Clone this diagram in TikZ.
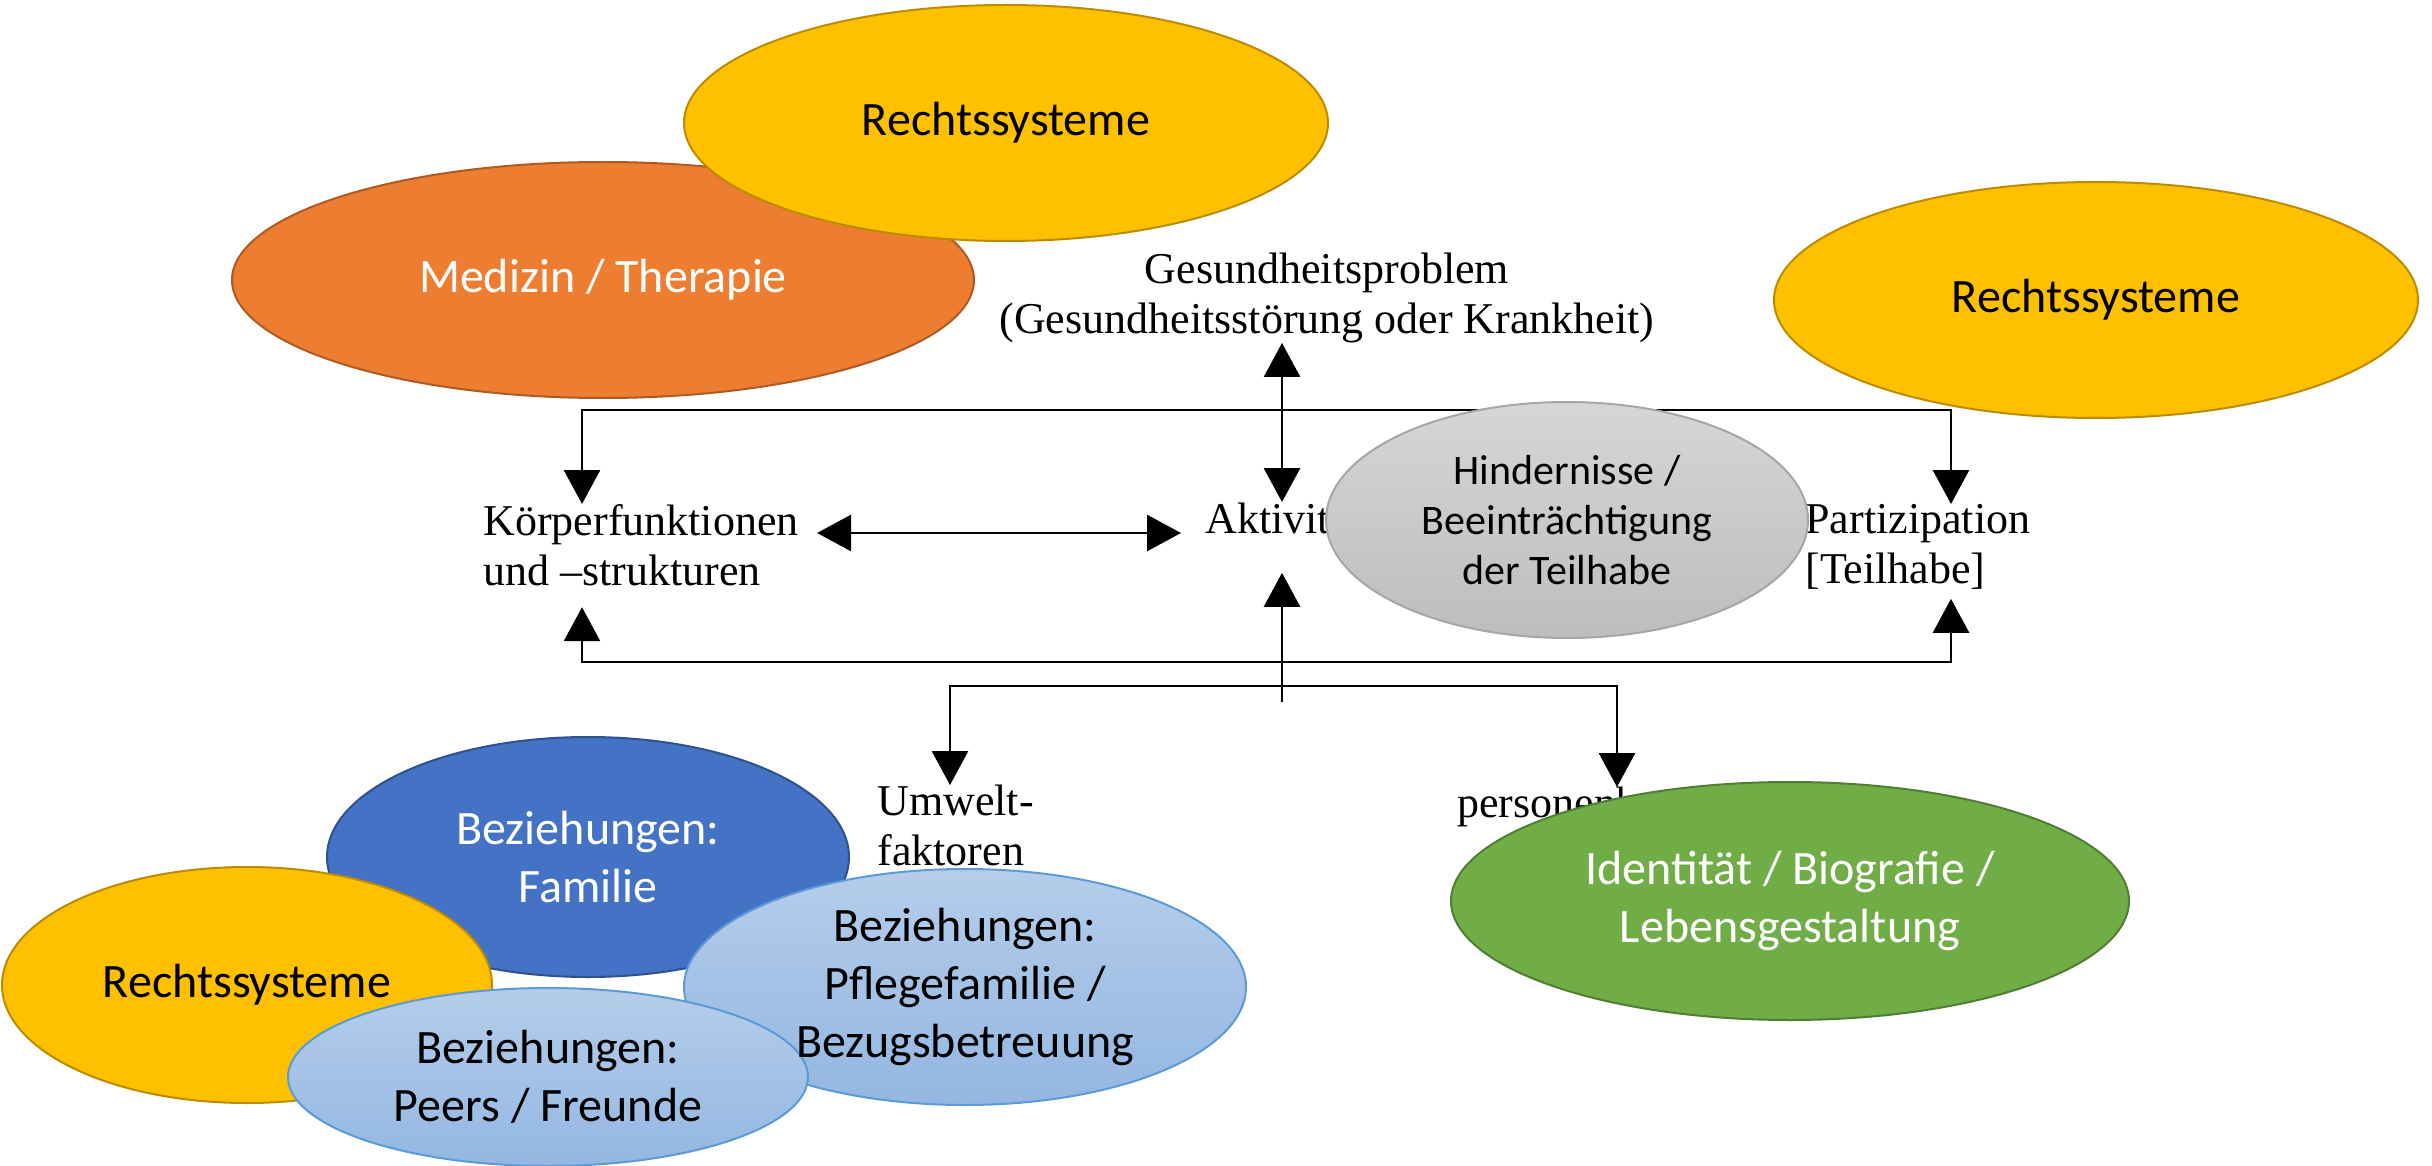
\documentclass[tikz,border=0pt]{standalone}
\usepackage{fontspec}
\setmainfont{Liberation Serif}
\newfontfamily\calibri{Carlito}
\usepackage{xcolor}
\usepackage{tikz}
\usetikzlibrary{arrows.meta,shapes.geometric}
\definecolor{rechtgelb}{HTML}{FFC000}
\definecolor{rechtrand}{HTML}{BC8C00}
\definecolor{medorange}{HTML}{ED7D31}
\definecolor{medrand}{HTML}{AE5A21}
\definecolor{famblau}{HTML}{4472C4}
\definecolor{famrand}{HTML}{2F528F}
\definecolor{hellblauoben}{HTML}{B5CDEA}
\definecolor{hellblauunten}{HTML}{93B7E2}
\definecolor{hellrand}{HTML}{5B9BD5}
\definecolor{identgruen}{HTML}{70AD47}
\definecolor{identrand}{HTML}{507E32}
\definecolor{grauoben}{HTML}{D6D6D6}
\definecolor{grauunten}{HTML}{BDBDBD}
\definecolor{graurand}{HTML}{A6A6A6}

\begin{document}
\begin{tikzpicture}[x=0.5pt, y=-0.5pt, icf/.style={inner sep=0pt, align=left, font=\fontsize{22}{25}\selectfont}, wire/.style={line width=1.4pt}, dbl/.style={wire, {Triangle[length=17pt,width=18pt]}-{Triangle[length=17pt,width=18pt]}}, arr/.style={wire, -{Triangle[length=17pt,width=18pt]}}, blob/.style={ellipse, draw, line width=1pt, inner sep=0pt, align=center, font=\calibri\fontsize{24}{29}\selectfont}, hellblob/.style={blob, draw=hellrand, top color=hellblauoben, bottom color=hellblauunten}]
\useasboundingbox (0,0) rectangle (2432,1166);
\node[icf, align=center, anchor=south] (gesund) at (1327,343) {Gesundheitsproblem\\(Gesundheitsstörung oder Krankheit)};
\node[icf, anchor=north west] (koerper) at (483,504) {Körperfunktionen\\und –strukturen};
\node[icf, anchor=base west] (aktiv) at (1205,533) {Aktivität};
\node[icf, anchor=north west] (partiz) at (1805,504) {Partizipation\\{[}Teilhabe{]}};
\node[icf, anchor=north west] (umwelt) at (877,785) {Umwelt-\\faktoren};
\node[icf, anchor=north west] (person) at (1457,787) {personenbezogene};
\coordinate (tl) at (582,410);
\coordinate (tr) at (1951,410);
\coordinate (tc) at (1282,410);
\coordinate (bl) at (582,662);
\coordinate (br) at (1951,662);
\coordinate (cb) at (1282,702);
\coordinate (fl) at (950,686);
\coordinate (fr) at (1617,686);
\draw[dbl] (tl |- koerper.north) -- (tl) -- (tr) -- (tr |- partiz.north);
\draw[dbl] (tc |- gesund.south) -- (tc |- aktiv.north);
\draw[dbl, shorten <=9pt, shorten >=12pt] (koerper.east |- aktiv.base) -- (aktiv.base west);
\draw[dbl, shorten <=10.5pt, shorten >=4.5pt] (bl |- koerper.south) -- (bl) -- (br) -- (br |- partiz.south);
\draw[arr, shorten >=19.5pt] (cb) -- (cb |- aktiv.south);
\draw[dbl] (fl |- umwelt.north) -- (fl) -- (fr) -- (fr |- person.north);
\node[blob, fill=medorange, draw=medrand, text=white, minimum width=371pt, minimum height=118pt] (medizin) at (603,280) {Medizin / Therapie};
\node[blob, fill=rechtgelb, draw=rechtrand, minimum width=322pt, minimum height=118pt] (rechtoben) at (1006,123) {Rechtssysteme};
\node[blob, fill=rechtgelb, draw=rechtrand, minimum width=322pt, minimum height=118pt] (rechtrechts) at (2096,300) {Rechtssysteme};
\node[blob, draw=graurand, top color=grauoben, bottom color=grauunten, font=\calibri\fontsize{21}{25}\selectfont, minimum width=241pt, minimum height=118pt] (hindernis) at (1567,520) {Hindernisse /\\Beeinträchtigung\\der Teilhabe};
\node[blob, fill=famblau, draw=famrand, text=white, minimum width=261pt, minimum height=120pt] (familie) at (588,857) {Beziehungen:\\Familie};
\node[blob, fill=rechtgelb, draw=rechtrand, minimum width=245pt, minimum height=118pt] (rechtunten) at (247,985) {Rechtssysteme};
\node[hellblob, minimum width=281pt, minimum height=118pt] (pflege) at (965,987) {};
\node[hellblob, minimum width=260pt, minimum height=89pt] (peers) at (548,1077) {Beziehungen:\\Peers / Freunde};
\node[align=center, inner sep=0pt, font=\calibri\fontsize{24}{29}\selectfont] (pflegetext) at (pflege) {Beziehungen:\\Pflegefamilie /\\Bezugsbetreuung};
\node[blob, fill=identgruen, draw=identrand, text=white, minimum width=339pt, minimum height=119pt] (identitaet) at (1790,901) {Identität / Biografie /\\Lebensgestaltung};
\end{tikzpicture}
\end{document}
